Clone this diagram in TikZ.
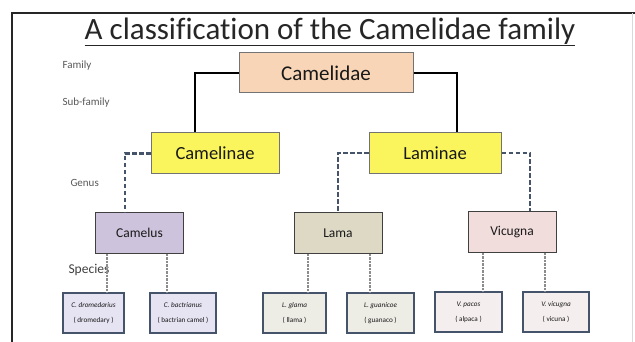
\documentclass[tikz,border=0pt]{standalone}
\usepackage{fontspec}
\setmainfont[Ligatures=NoCommon]{Carlito}
\usepackage{tikz}
\usetikzlibrary{positioning}

\definecolor{peach}{HTML}{F8D5B6}
\definecolor{subyel}{HTML}{FAF55C}
\definecolor{lilac}{HTML}{CDC3DC}
\definecolor{khaki}{HTML}{DDD9C5}
\definecolor{rosy}{HTML}{F1DDDC}
\definecolor{lilacpale}{HTML}{E6E4F2}
\definecolor{khakipale}{HTML}{EDECE5}
\definecolor{rosypale}{HTML}{F4EEEE}
\definecolor{slate}{HTML}{45536B}

\begin{document}
\begin{tikzpicture}[
  x=1pt, y=-1pt,
  box/.style={draw=black!55, line width=1pt, align=center, inner sep=0pt, text=black!90},
  famnode/.style={box, fill=peach, minimum width=174pt, minimum height=40pt, font=\fontsize{21}{24}\selectfont},
  subnode/.style={box, fill=subyel, minimum height=41pt, font=\fontsize{18.5}{22}\selectfont},
  gennode/.style={box, draw=black!75, minimum width=88pt, minimum height=40pt, font=\fontsize{13.5}{16}\selectfont},
  spcnode/.style={box, draw=slate, line width=1.5pt, minimum height=40pt, font=\fontsize{7.2}{15}\selectfont},
  rank/.style={anchor=west, text=black!65, font=\fontsize{11}{13}\selectfont},
  blackln/.style={line width=2.6pt, black},
  dashln/.style={line width=2.4pt, slate, dash pattern=on 4.5pt off 2.5pt},
  dotln/.style={line width=1.4pt, black!45, dash pattern=on 0.7pt off 0.7pt}
]
\useasboundingbox (0,0) rectangle (635,342);
\fill[white] (0,0) rectangle (635,342);

% frame
\draw[line width=2pt, black!85] (12,342) -- (12,13) -- (635,13);
\draw[line width=0.8pt, black!15] (632,13) -- (632,342);

% title and ranks
\node[font=\fontsize{31}{34}\selectfont, text=black!85] (title) at (330,32) {\underline{A classification of the Camelidae family}};
\node[rank] (rfam) at (59,66) {Family};
\node[rank] (rsub) at (59,103) {Sub-family};
\node[rank] (rgen) at (67,183) {Genus};
\node[rank, text=black!75, font=\fontsize{13.5}{15}\selectfont] (rspc) at (65,270) {Species};

% family, sub-families, genera
\node[famnode] (cam) at (326,73) {Camelidae};
\node[subnode, minimum width=128pt] (camin) at (215,153.5) {Camelinae};
\node[subnode, minimum width=132pt] (lamin) at (435,153) {Laminae};
\node[gennode, fill=lilac] (camel) at (139.5,233) {Camelus};
\node[gennode, fill=khaki] (lama) at (338,233) {Lama};
\node[gennode, fill=rosy] (vicu) at (512,232) {Vicugna};

% species
\node[spcnode, fill=lilacpale, minimum width=61pt] (dro) at (93.5,313) {\textit{C. dromedarius}\\( dromedary )};
\node[spcnode, fill=lilacpale, minimum width=66pt] (bac) at (183,313) {\textit{C. bactrianus}\\( bactrian camel )};
\node[spcnode, fill=khakipale, minimum width=63pt] (gla) at (294.5,313) {\textit{L. glama}\\( llama )};
\node[spcnode, fill=khakipale, minimum width=67pt] (gua) at (380.5,313) {\textit{L. guanicoe}\\( guanaco )};
\node[spcnode, fill=rosypale, minimum width=67pt] (pac) at (468.5,312) {\textit{V. pacos}\\( alpaca )};
\node[spcnode, fill=rosypale, minimum width=66pt] (vig) at (556,312) {\textit{V. vicugna}\\( vicuna )};

% links
\draw[blackln] (cam.west) -| ([xshift=-20pt]camin.north);
\draw[blackln] (cam.east) -| ([xshift=22pt]lamin.north);
\draw[dashln] (camin.west) -| ([xshift=-14.5pt]camel.north);
\draw[dashln] (lamin.west) -| (lama.north);
\draw[dashln] (lamin.east) -| ([xshift=18pt]vicu.north);

\draw[dotln] ([xshift=13.5pt]dro.north) -- ([xshift=13.5pt]dro.north |- camel.south);
\draw[dotln] ([xshift=-16pt]bac.north) -- ([xshift=-16pt]bac.north |- camel.south);
\draw[dotln] ([xshift=13.5pt]gla.north) -- ([xshift=13.5pt]gla.north |- lama.south);
\draw[dotln] ([xshift=-10.5pt]gua.north) -- ([xshift=-10.5pt]gua.north |- lama.south);
\draw[dotln] ([xshift=14.5pt]pac.north) -- ([xshift=14.5pt]pac.north |- vicu.south);
\draw[dotln] ([xshift=-11pt]vig.north) -- ([xshift=-11pt]vig.north |- vicu.south);
\end{tikzpicture}
\end{document}
